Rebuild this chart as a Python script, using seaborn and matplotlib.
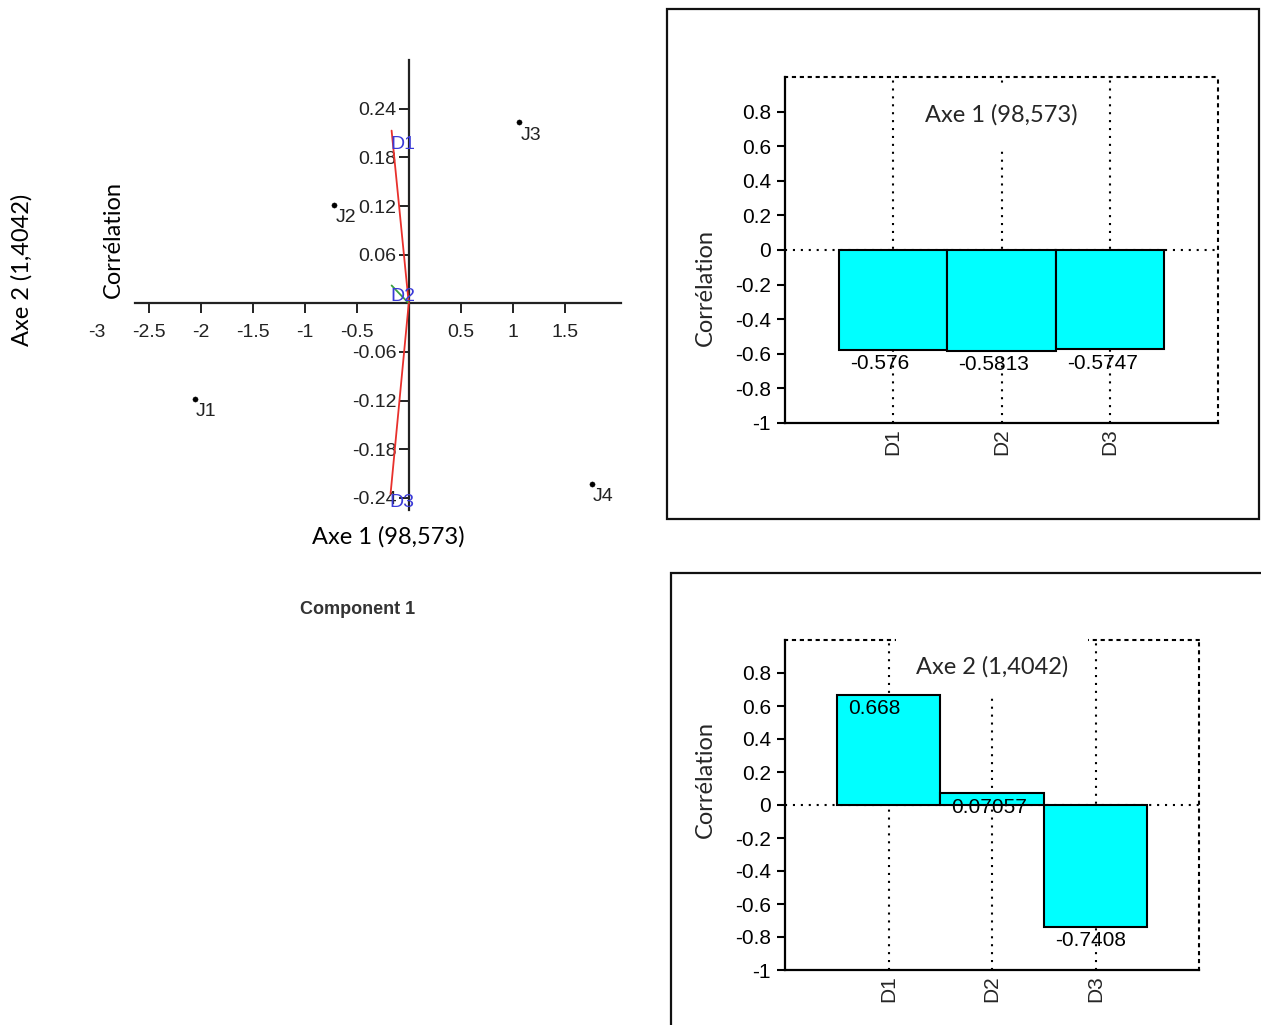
import matplotlib.pyplot as plt
import seaborn as sns
import pandas as pd
from matplotlib.patches import Rectangle

# Thème seaborn blanc, puis polices (après set_theme)
sns.set_theme(style="white")
plt.rcParams['font.family'] = ['Liberation Sans', 'DejaVu Sans']

# Individus (coordonnées sur les axes 1 et 2)
individus = ["J1", "J2", "J3", "J4"]
ind_axe1 = [-2.06, -0.72, 1.06, 1.76]
ind_axe2 = [-0.118, 0.121, 0.223, -0.223]

# Variables (vecteurs)
variables = ["D1", "D2", "D3"]
var_axe1 = [-0.165, -0.165, -0.175]
var_axe2 = [0.213, 0.022, -0.235]
var_couleurs = ["#e8302c", "#3aa040", "#e8302c"]

# Corrélations avec les axes
corr_axe1 = [-0.576, -0.5813, -0.5747]
corr_axe2 = [0.668, 0.07057, -0.7408]

xticks_biplot = [-3, -2.5, -2, -1.5, -1, -0.5, 0.5, 1, 1.5]
yticks_biplot = [-0.24, -0.18, -0.12, -0.06, 0.06, 0.12, 0.18, 0.24]

calibri = ['Lato', 'DejaVu Sans']
arial = ['Liberation Sans', 'DejaVu Sans']
gris = "#222222"

fig = plt.figure(figsize=(12.61, 10.25), dpi=100)

# ---------- biplot ----------
ax = fig.add_axes([0.0603, 0.5024, 0.4370, 0.4390])
ind = pd.DataFrame({"x": ind_axe1, "y": ind_axe2, "nom": individus})
sns.scatterplot(data=ind, x="x", y="y", color="black", s=14, edgecolor="black", ax=ax, zorder=4)
for _, r in ind.iterrows():
    ax.annotate(r["nom"], (r["x"], r["y"]), xytext=(1, -3), textcoords="offset points",
                ha="left", va="top", fontsize=14, color=gris, family=arial)
for vx, vy, c in zip(var_axe1, var_axe2, var_couleurs):
    ax.plot([0, vx], [0, vy], color=c, lw=1.3, zorder=3)
# décalages des étiquettes D1..D3 (points)
decal = [(-1, -10), (-1, -8), (-1, -6)]
for vx, vy, nom, (dx, dy) in zip(var_axe1, var_axe2, variables, decal):
    ax.annotate(nom, (vx, vy), xytext=(dx, dy), textcoords="offset points", color="#3a3ad8",
                fontsize=14, ha="left", va="center", zorder=5, family=arial,
                annotation_clip=False, clip_on=True)
ax.set_xlim(-3.2, 2.1)
ax.set_ylim(-0.255, 0.30)
ax.spines["left"].set_position(("data", 0))
ax.spines["bottom"].set_position(("data", 0))
ax.spines["right"].set_visible(False)
ax.spines["top"].set_visible(False)
ax.spines["bottom"].set_bounds(-2.63, 2.04)
for s in ["left", "bottom"]:
    ax.spines[s].set_color("#222222")
    ax.spines[s].set_linewidth(1.6)
ax.set_xticks(xticks_biplot)
ax.set_xticklabels([f"{v:g}" for v in xticks_biplot])
ax.set_yticks(yticks_biplot)
ax.set_yticklabels([f"{v:g}" for v in yticks_biplot])
ax.tick_params(axis="x", direction="out", length=7, width=1.4, pad=8, labelsize=14,
               colors="#222222", bottom=True)
ax.tick_params(axis="y", direction="out", length=7, width=1.4, pad=2, labelsize=14,
               colors="#222222", left=True)
ax.xaxis.get_major_ticks()[0].tick1line.set_visible(False)
ax.set_xlabel("")
ax.set_ylabel("")

fig.text(113 / 1261, 1 - 240 / 1025, "Corrélation", rotation=90, ha="center", va="center",
         fontsize=17, family=calibri, color="black")
fig.text(22 / 1261, 1 - 270 / 1025, "Axe 2 (1,4042)", rotation=90, ha="center", va="center",
         fontsize=17, family=calibri, color="black")
fig.text(388 / 1261, 1 - 537 / 1025, "Axe 1 (98,573)", ha="center", va="center",
         fontsize=17, family=calibri, color="black")
fig.text(358 / 1261, 1 - 609 / 1025, "Component 1", ha="center", va="center",
         fontsize=13, weight="bold", color="#333333", family=arial)


# ---------- diagrammes en barres ----------
def barres(pos, valeurs, titre, titre_y, ylab_x, ylab_y):
    a = fig.add_axes(pos)
    df = pd.DataFrame({"var": variables, "corr": valeurs})
    sns.barplot(data=df, x="var", y="corr", color="#00ffff", saturation=1, width=1.0,
                edgecolor="black", linewidth=1.5, ax=a, zorder=3)
    a.set_axisbelow(True)
    a.set_xlim(-1, 3)
    a.set_ylim(-1, 1)
    a.set_yticks([-1, -0.8, -0.6, -0.4, -0.2, 0, 0.2, 0.4, 0.6, 0.8])
    a.set_yticklabels(["-1", "-0.8", "-0.6", "-0.4", "-0.2", "0", "0.2", "0.4", "0.6", "0.8"])
    a.grid(True, axis="x", linestyle=(0, (1, 2.8)), color="black", lw=1.5)
    a.axhline(0, linestyle=(0, (1, 2.8)), color="black", lw=1.5, zorder=1)
    for s in ["top", "right"]:
        a.spines[s].set_linestyle((0, (1, 2.8)))
        a.spines[s].set_linewidth(1.5)
        a.spines[s].set_color("black")
    for s in ["left", "bottom"]:
        a.spines[s].set_linewidth(1.6)
        a.spines[s].set_color("black")
    a.tick_params(axis="y", left=True, length=6, width=1.5, pad=4, labelsize=15, colors="black")
    a.tick_params(axis="x", bottom=False, length=0, pad=4, labelsize=15, labelrotation=90)
    for i, v in enumerate(valeurs):
        a.annotate(f"{v:g}", (i - 0.5, v), xytext=(8, -3), textcoords="offset points",
                   ha="left", va="top", fontsize=15, color="black", zorder=4, family=arial)
    a.text(1.0, titre_y, titre, ha="center", va="center", fontsize=17, family=calibri,
           bbox=dict(facecolor="white", edgecolor="none", boxstyle="square,pad=0.85"), zorder=2.8)
    a.set_xlabel("")
    a.set_ylabel("")
    fig.text(ylab_x, ylab_y, "Corrélation", rotation=90, ha="center", va="center",
             fontsize=17, family=calibri)
    return a


barres([785 / 1261, 1 - 423 / 1025, 433 / 1261, 346 / 1025], corr_axe1, "Axe 1 (98,573)",
       0.78, 705 / 1261, 1 - 287 / 1025)
barres([785 / 1261, 1 - 970 / 1025, 414 / 1261, 330 / 1025], corr_axe2, "Axe 2 (1,4042)",
       0.84, 705 / 1261, 1 - 780 / 1025)

# cadres autour des deux panneaux
W, H = 1261, 1025
fig.add_artist(Rectangle((667 / W, 1 - 519 / H), 592 / W, 510 / H, transform=fig.transFigure,
                         fill=False, edgecolor="#111111", lw=1.6))
fig.add_artist(Rectangle((671 / W, 1 - 1040 / H), 600 / W, 467 / H, transform=fig.transFigure,
                         fill=False, edgecolor="#111111", lw=1.6))

fig.savefig("out.png", dpi=100)
